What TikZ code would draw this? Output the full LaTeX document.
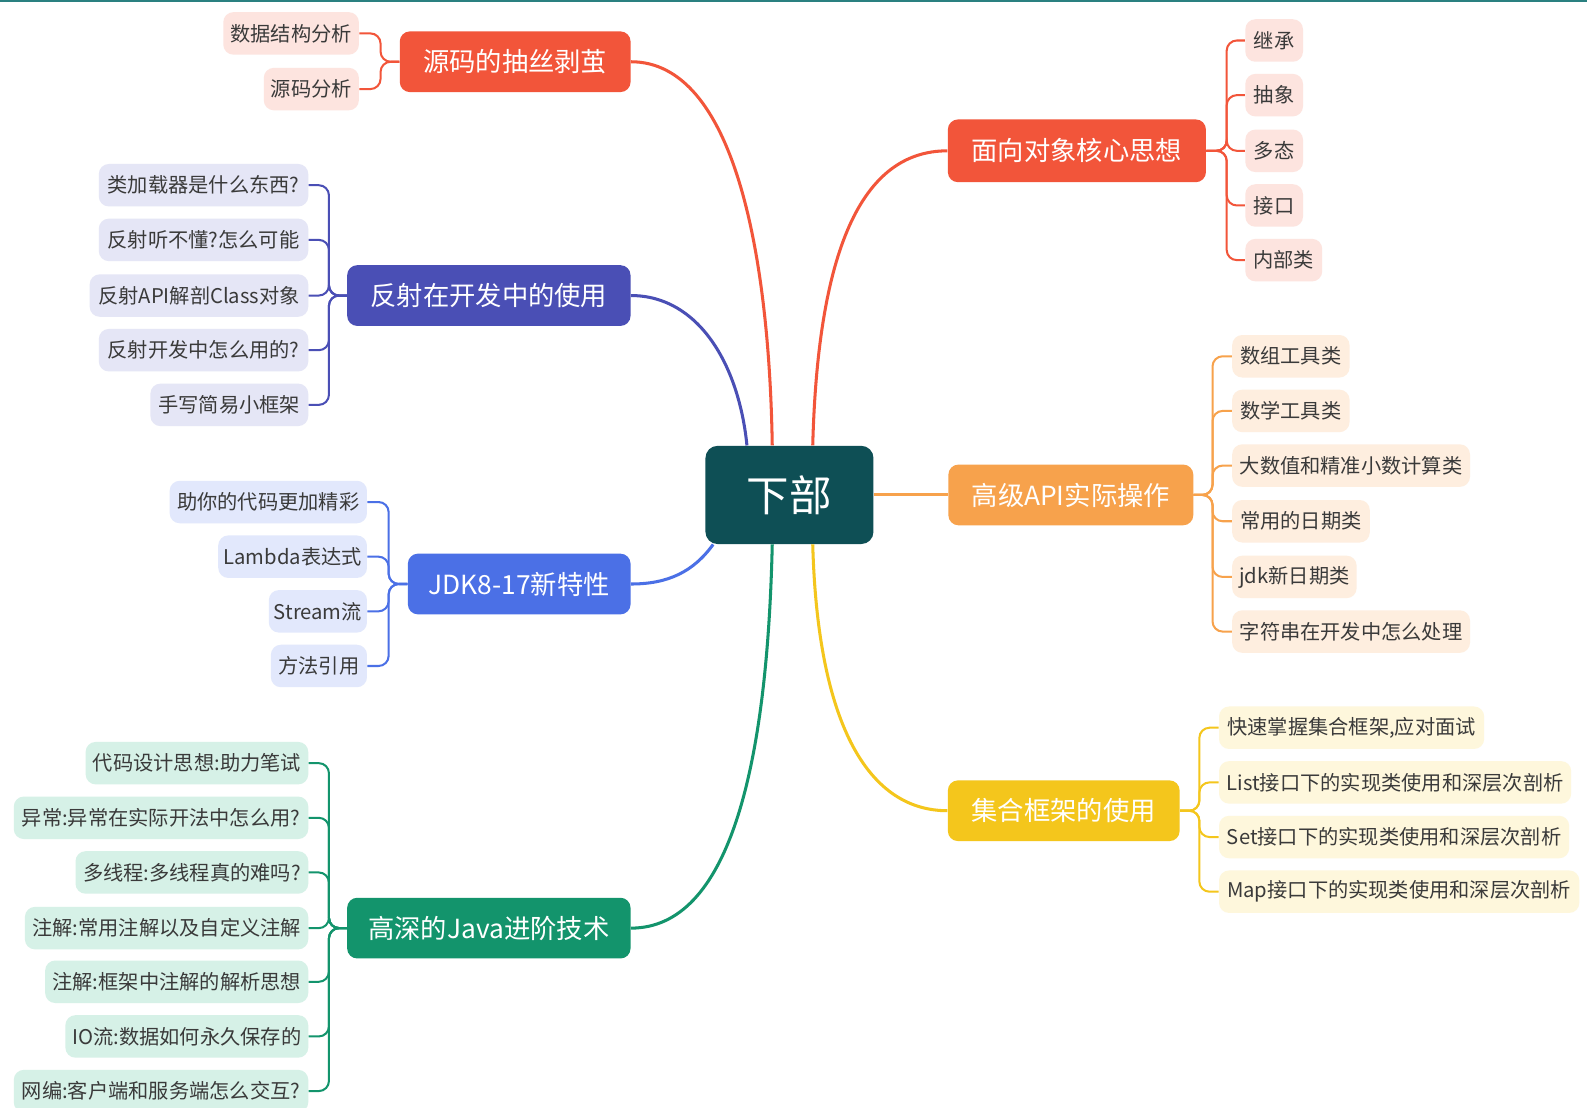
\documentclass[tikz,border=0pt]{standalone}
\usepackage{fontspec}
\setmainfont{Noto Sans CJK SC}
\usetikzlibrary{calc}
\definecolor{rootcol}{HTML}{0E4F55}
\definecolor{redc}{HTML}{F2553A}
\definecolor{indc}{HTML}{4A4FB5}
\definecolor{bluec}{HTML}{4B70E6}
\definecolor{greenc}{HTML}{13946C}
\definecolor{orangec}{HTML}{F7A24C}
\definecolor{yellowc}{HTML}{F4C61C}
\definecolor{redl}{HTML}{FDE4DF}
\definecolor{indl}{HTML}{E5E6F6}
\definecolor{bluel}{HTML}{E2E8FC}
\definecolor{greenl}{HTML}{D6F1E7}
\definecolor{orangel}{HTML}{FEEEDF}
\definecolor{yellowl}{HTML}{FEF7DC}
\definecolor{leaftext}{HTML}{3A3A3A}
\definecolor{topc}{HTML}{2A8080}
\begin{document}
\begin{tikzpicture}[x=0.5pt,y=-0.5pt,
  mainnode/.style={rounded corners=5pt, minimum height=30pt, inner sep=0pt, text=white, font=\fontsize{13}{15}\selectfont, fill=#1},
  leaf/.style={rounded corners=5pt, minimum height=21pt, inner sep=0pt, text=leaftext, font=\fontsize{10}{12}\selectfont, fill=#1},
  link/.style={line width=1.5pt, draw=#1},
  br/.style={line width=1pt, rounded corners=5pt, draw=#1}]
\useasboundingbox (0,0) rectangle (1568,1094);
\fill[white] (0,0) rectangle (1568,1094);
\draw[topc, line width=1pt] (0,1) -- (1568,1);

% root
\node[fill=rootcol, rounded corners=6pt, minimum width=83pt, minimum height=48.5pt, inner sep=0pt, text=white, font=\fontsize{21}{24}\selectfont] (root) at (780,489) {下部};

% ---------- left: 源码 ----------
\node[mainnode=redc, minimum width=114pt] (s1) at (509,61) {源码的抽丝剥茧};
\node[leaf=redl, minimum width=67pt, anchor=east] (s1a) at (355,33) {数据结构分析};
\node[leaf=redl, minimum width=47pt, anchor=east] (s1b) at (355,88) {源码分析};
\coordinate (t1) at (376,0);
\foreach \c in {s1a,s1b} \draw[br=redc] (\c.east) -- (\c.east -| t1) -- (s1.west -| t1) -- (s1.west);

% ---------- left: 反射 ----------
\node[mainnode=indc, minimum width=140pt] (s2) at (483,292) {反射在开发中的使用};
\node[leaf=indl, minimum width=103.5pt, anchor=east] (s2a) at (305,183) {类加载器是什么东西?};
\node[leaf=indl, minimum width=103.5pt, anchor=east] (s2b) at (305,237) {反射听不懂?怎么可能};
\node[leaf=indl, minimum width=108pt, anchor=east] (s2c) at (305,292) {反射API解剖Class对象};
\node[leaf=indl, minimum width=103.5pt, anchor=east] (s2d) at (305,346) {反射开发中怎么用的?};
\node[leaf=indl, minimum width=78pt, anchor=east] (s2e) at (305,400) {手写简易小框架};
\coordinate (t2) at (325,0);
\foreach \c in {s2a,s2b,s2c,s2d,s2e} \draw[br=indc] (\c.east) -- (\c.east -| t2) -- (s2.west -| t2) -- (s2.west);

% ---------- left: JDK ----------
\node[mainnode=bluec, minimum width=110pt] (s3) at (513,577) {JDK8-17新特性};
\node[leaf=bluel, minimum width=97.5pt, anchor=east] (s3a) at (363,496) {助你的代码更加精彩};
\node[leaf=bluel, minimum width=73.5pt, anchor=east] (s3b) at (363,550) {Lambda表达式};
\node[leaf=bluel, minimum width=48.5pt, anchor=east] (s3c) at (363,604) {Stream流};
\node[leaf=bluel, minimum width=47.5pt, anchor=east] (s3d) at (363,658) {方法引用};
\coordinate (t3) at (384,0);
\foreach \c in {s3a,s3b,s3c,s3d} \draw[br=bluec] (\c.east) -- (\c.east -| t3) -- (s3.west -| t3) -- (s3.west);

% ---------- left: 高深 ----------
\node[mainnode=greenc, minimum width=140pt] (s4) at (483,917) {高深的Java进阶技术};
\node[leaf=greenl, minimum width=110pt, anchor=east] (s4a) at (305,754) {代码设计思想:助力笔试};
\node[leaf=greenl, minimum width=145.5pt, anchor=east] (s4b) at (305,808) {异常:异常在实际开法中怎么用?};
\node[leaf=greenl, minimum width=115pt, anchor=east] (s4c) at (305,862) {多线程:多线程真的难吗?};
\node[leaf=greenl, minimum width=140pt, anchor=east] (s4d) at (305,917) {注解:常用注解以及自定义注解};
\node[leaf=greenl, minimum width=130pt, anchor=east] (s4e) at (305,970) {注解:框架中注解的解析思想};
\node[leaf=greenl, minimum width=120pt, anchor=east] (s4f) at (305,1024) {IO流:数据如何永久保存的};
\node[leaf=greenl, minimum width=145.5pt, anchor=east] (s4g) at (305,1078) {网编:客户端和服务端怎么交互?};
\coordinate (t4) at (325,0);
\foreach \c in {s4a,s4b,s4c,s4d,s4e,s4f,s4g} \draw[br=greenc] (\c.east) -- (\c.east -| t4) -- (s4.west -| t4) -- (s4.west);

% ---------- right: 面向对象 ----------
\node[mainnode=redc, minimum width=127.5pt, minimum height=31pt] (r1) at (1064,149) {面向对象核心思想};
\node[leaf=redl, minimum width=28.5pt, anchor=west] (r1a) at (1230,40) {继承};
\node[leaf=redl, minimum width=28.5pt, anchor=west] (r1b) at (1230,94) {抽象};
\node[leaf=redl, minimum width=28.5pt, anchor=west] (r1c) at (1230,149) {多态};
\node[leaf=redl, minimum width=28.5pt, anchor=west] (r1d) at (1230,203) {接口};
\node[leaf=redl, minimum width=38pt, anchor=west] (r1e) at (1230,257) {内部类};
\coordinate (u1) at (1212,0);
\foreach \c in {r1a,r1b,r1c,r1d,r1e} \draw[br=redc] (\c.west) -- (\c.west -| u1) -- (r1.east -| u1) -- (r1.east);

% ---------- right: 高级API ----------
\node[mainnode=orangec, minimum width=121pt] (r2) at (1058,489) {高级API实际操作};
\node[leaf=orangel, minimum width=58pt, anchor=west] (r2a) at (1217,352) {数组工具类};
\node[leaf=orangel, minimum width=58pt, anchor=west] (r2b) at (1217,406) {数学工具类};
\node[leaf=orangel, minimum width=117.5pt, anchor=west] (r2c) at (1217,460) {大数值和精准小数计算类};
\node[leaf=orangel, minimum width=68pt, anchor=west] (r2d) at (1217,515) {常用的日期类};
\node[leaf=orangel, minimum width=61.5pt, anchor=west] (r2e) at (1217,570) {jdk新日期类};
\node[leaf=orangel, minimum width=117.5pt, anchor=west] (r2f) at (1217,624) {字符串在开发中怎么处理};
\coordinate (u2) at (1198,0);
\foreach \c in {r2a,r2b,r2c,r2d,r2e,r2f} \draw[br=orangec] (\c.west) -- (\c.west -| u2) -- (r2.east -| u2) -- (r2.east);

% ---------- right: 集合 ----------
\node[mainnode=yellowc, minimum width=114.5pt] (r3) at (1051,801) {集合框架的使用};
\node[leaf=yellowl, minimum width=131pt, anchor=west] (r3a) at (1204,719) {快速掌握集合框架,应对面试};
\node[leaf=yellowl, minimum width=174pt, anchor=west] (r3b) at (1204,773) {List接口下的实现类使用和深层次剖析};
\node[leaf=yellowl, minimum width=173pt, anchor=west] (r3c) at (1204,827) {Set接口下的实现类使用和深层次剖析};
\node[leaf=yellowl, minimum width=178pt, anchor=west] (r3d) at (1204,881) {Map接口下的实现类使用和深层次剖析};
\coordinate (u3) at (1185,0);
\foreach \c in {r3a,r3b,r3c,r3d} \draw[br=yellowc] (\c.west) -- (\c.west -| u3) -- (r3.east -| u3) -- (r3.east);

% ---------- main curves ----------
\draw[link=redc] ($(root.north)+(-17,0)$) .. controls (760,250) and (725,61) .. (s1.east);
\draw[link=redc] ($(root.north)+(23,0)$) .. controls (808,250) and (850,149) .. (r1.west);
\draw[link=indc] ($(root.north)+(-42,0)$) .. controls (730,360) and (690,292) .. (s2.east);
\draw[link=bluec] ($(root.south west)+(8,0)$) .. controls (685,565) and (660,577) .. (s3.east);
\draw[link=orangec] (root.east) -- (r2.west);
\draw[link=yellowc] ($(root.south)+(23,0)$) .. controls (808,720) and (860,801) .. (r3.west);
\draw[link=greenc] ($(root.south)+(-17,0)$) .. controls (758,760) and (720,917) .. (s4.east);
\end{tikzpicture}
\end{document}
